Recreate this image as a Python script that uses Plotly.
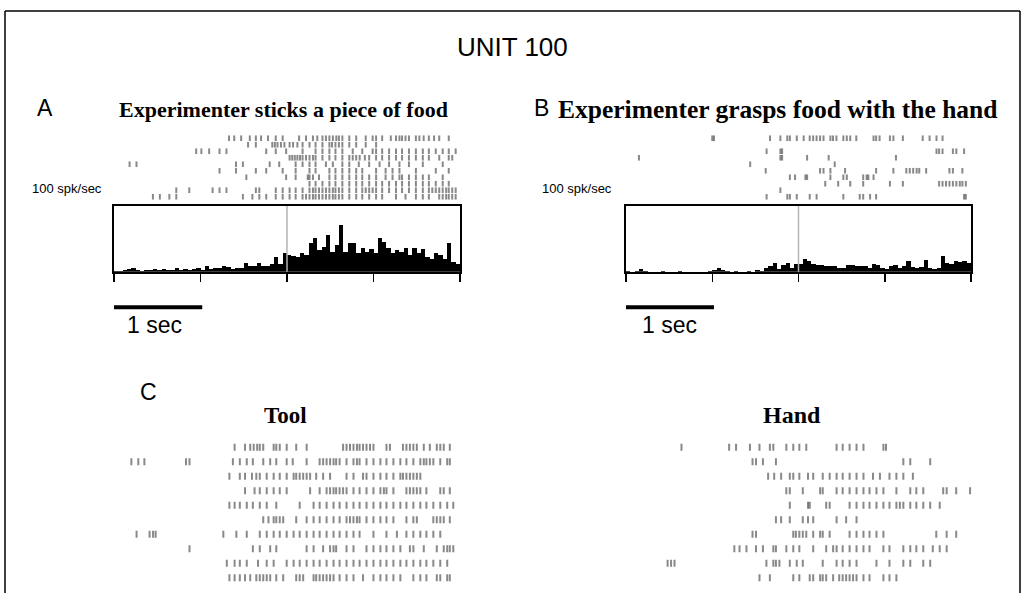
import numpy as np
import plotly.graph_objects as go

W, H = 1025, 593

# ---------------- DATA ----------------
# Histograms (spk/sec), 50 ms bins from -2 s to +2 s (event at 0)
bin_width = 0.05
hist_A = [1, 1, 2, 4, 5, 2, 1, 2, 2, 4, 2, 4, 2, 3, 5, 2, 4, 2, 4, 5,
          3, 9, 4, 5, 6, 9, 7, 4, 5, 6, 13, 9, 8, 13, 8, 9, 11, 23, 12, 28,
          26, 24, 22, 28, 25, 43, 51, 33, 38, 56, 30, 41, 71, 30, 43, 43, 28, 36, 30, 34,
          28, 51, 45, 36, 28, 33, 30, 36, 25, 36, 28, 35, 22, 20, 28, 25, 20, 43, 15, 12]
hist_B = [1, 0, 1, 4, 1, 0, 0, 0, 1, 0, 0, 0, 1, 0, 0, 0, 0, 0, 0, 1,
          2, 5, 3, 1, 0, 1, 0, 0, 1, 0, 3, 1, 6, 8, 13, 4, 10, 14, 5, 11,
          12, 20, 17, 12, 10, 10, 9, 8, 9, 6, 5, 10, 10, 9, 8, 9, 5, 11, 10, 6,
          4, 9, 10, 5, 9, 16, 7, 6, 7, 18, 6, 4, 5, 24, 14, 12, 16, 15, 17, 13]
hist_ticks = [-2, -1, 0, 1, 2]

# Raster spike times (s), one list per trial
raster_A = [
    [-0.67, -0.61, -0.53, -0.43, -0.36, -0.30, -0.22, -0.13, -0.05, 0.14, 0.22, 0.30, 0.35, 0.41, 0.45, 0.49, 0.53,
     0.57, 0.60, 0.64, 0.72, 0.80, 0.91, 0.99, 1.03, 1.10, 1.20, 1.26, 1.30, 1.33, 1.37, 1.41, 1.49, 1.53, 1.58,
     1.64, 1.70, 1.76, 1.87],
    [-0.45, -0.36, -0.17, -0.14, -0.11, -0.07, -0.03, 0.03, 0.07, 0.12, 0.18, 0.26, 0.33, 0.41, 0.49, 0.52, 0.56,
     0.60, 0.64, 0.72, 0.80, 0.91, 1.03],
    [-1.05, -0.99, -0.90, -0.78, -0.70, -0.24, -0.13, -0.01, 0.18, 0.33, 0.41, 0.49, 0.56, 0.64, 0.76, 0.87, 0.99,
     1.03, 1.10, 1.18, 1.26, 1.33, 1.41, 1.49, 1.57, 1.64, 1.72, 1.80, 1.87, 1.95],
    [0.03, 0.06, 0.09, 0.12, 0.15, 0.18, 0.22, 0.26, 0.30, 0.33, 0.41, 0.49, 0.56, 0.64, 0.72, 0.76, 0.80, 0.84,
     0.90, 0.95, 1.03, 1.10, 1.18, 1.26, 1.33, 1.41, 1.49, 1.57, 1.64, 1.76, 1.87, 1.91],
    [-1.82, -1.74, -0.59, -0.51, -0.20, -0.09, 0.10, 0.18, 0.26, 0.33, 0.45, 0.53, 0.64, 0.72, 0.83, 0.95, 1.07,
     1.18, 1.30, 1.41, 1.57, 1.80],
    [-0.78, -0.59, -0.36, -0.24, -0.05, 0.10, 0.26, 0.33, 0.49, 0.56, 0.64, 0.72, 0.80, 0.87, 1.03, 1.14, 1.22,
     1.30, 1.49, 1.72, 1.87],
    [-0.47, -0.01, 0.10, 0.24, 0.26, 0.30, 0.37, 0.49, 0.56, 0.64, 0.72, 0.80, 0.87, 0.95, 1.03, 1.14, 1.22, 1.30,
     1.33, 1.41, 1.49, 1.57, 1.64, 1.80],
    [0.26, 0.33, 0.41, 0.49, 0.56, 0.64, 0.72, 0.80, 0.87, 0.95, 1.03, 1.10, 1.18, 1.26, 1.33, 1.41, 1.49, 1.57,
     1.64, 1.72, 1.80, 1.87],
    [-1.28, -1.13, -0.86, -0.78, -0.70, -0.36, -0.32, -0.13, -0.05, 0.03, 0.10, 0.18, 0.26, 0.30, 0.33, 0.37, 0.41,
     0.45, 0.49, 0.53, 0.56, 0.60, 0.64, 0.72, 0.80, 0.87, 0.91, 0.95, 0.99, 1.03, 1.10, 1.18, 1.26, 1.33, 1.41,
     1.49, 1.57, 1.64, 1.68, 1.72, 1.76, 1.80, 1.84, 1.87, 1.91, 1.95],
    [-1.55, -1.47, -1.36, -1.28, -0.51, -0.40, -0.32, -0.24, -0.13, -0.05, 0.03, 0.10, 0.18, 0.22, 0.26, 0.30, 0.33,
     0.37, 0.41, 0.45, 0.49, 0.53, 0.56, 0.60, 0.64, 0.72, 0.80, 0.87, 0.95, 1.03, 1.10, 1.26, 1.37, 1.49, 1.57,
     1.64, 1.76, 1.80, 1.84, 1.87, 1.91, 1.95],
]
raster_B = [
    [-1.00, -0.98, -0.33, -0.21, -0.13, -0.10, -0.02, 0.06, 0.13, 0.17, 0.21, 0.25, 0.29, 0.37, 0.40, 0.44, 0.52,
     0.56, 0.60, 0.67, 0.87, 0.90, 0.94, 1.06, 1.10, 1.21, 1.44, 1.52, 1.60, 1.67],
    [],
    [-0.37, -0.21, -0.19, 1.60, 1.63, 1.67, 1.79, 1.83, 1.92],
    [-1.85, -0.21, -0.19, 0.10, 0.35, 1.13],
    [-0.56, 0.42],
    [-0.38, 0.25, 0.29, 0.37, 0.54, 0.90, 1.10, 1.25, 1.29, 1.33, 1.37, 1.40, 1.48, 1.75, 1.79, 1.90],
    [-0.10, -0.04, 0.08, 0.10, 0.37, 0.52, 0.56, 0.75, 0.79, 0.81, 0.87],
    [0.31, 0.46, 0.60, 0.75, 1.06, 1.21, 1.63, 1.67, 1.71, 1.75, 1.79, 1.83, 1.87, 1.90, 1.94],
    [-0.21],
    [-0.37, -0.13, -0.10, -0.02, 0.13, 0.21, 0.52, 0.71, 0.75, 0.83, 0.90, 1.92, 1.94],
]
raster_tool = [
    [-0.61, -0.49, -0.43, -0.39, -0.35, -0.32, -0.28, -0.16, -0.13, -0.09, -0.01, 0.10, 0.22, 0.64, 0.68, 0.72,
     0.76, 0.80, 0.83, 0.87, 0.91, 0.95, 0.99, 1.14, 1.18, 1.33, 1.37, 1.41, 1.45, 1.49, 1.57, 1.64, 1.72, 1.76,
     1.80, 1.87],
    [-1.80, -1.72, -1.65, -1.17, -1.13, -0.63, -0.55, -0.47, -0.40, -0.28, -0.20, -0.13, -0.01, 0.06, 0.22, 0.37,
     0.41, 0.45, 0.49, 0.53, 0.56, 0.60, 0.68, 0.76, 0.80, 0.83, 0.91, 0.99, 1.07, 1.14, 1.22, 1.30, 1.37, 1.45,
     1.53, 1.57, 1.60, 1.64, 1.68, 1.76, 1.84, 1.87],
    [-0.67, -0.55, -0.49, -0.41, -0.36, -0.32, -0.24, -0.16, -0.09, -0.01, 0.07, 0.10, 0.14, 0.18, 0.22, 0.26,
     0.33, 0.41, 0.49, 0.68, 0.76, 0.87, 0.91, 0.99, 1.07, 1.14, 1.22, 1.30, 1.33, 1.37, 1.41, 1.45, 1.49, 1.53],
    [-0.49, -0.38, -0.32, -0.24, -0.16, -0.09, -0.01, 0.26, 0.37, 0.45, 0.49, 0.53, 0.56, 0.60, 0.64, 0.68, 0.76,
     0.83, 0.91, 0.99, 1.07, 1.11, 1.14, 1.22, 1.37, 1.41, 1.45, 1.49, 1.53, 1.60, 1.76, 1.80, 1.87],
    [-0.67, -0.61, -0.55, -0.47, -0.40, -0.32, -0.24, -0.13, 0.14, 0.30, 0.37, 0.45, 0.53, 0.60, 0.68, 0.76, 0.83,
     0.91, 0.99, 1.07, 1.14, 1.22, 1.30, 1.37, 1.45, 1.53, 1.60, 1.68, 1.76, 1.84, 1.91],
    [-0.28, -0.22, -0.16, -0.13, -0.09, -0.05, 0.10, 0.22, 0.30, 0.37, 0.45, 0.53, 0.60, 0.68, 0.72, 0.76, 0.80,
     0.83, 0.91, 0.99, 1.07, 1.14, 1.22, 1.37, 1.45, 1.49, 1.68, 1.72, 1.76, 1.80, 1.87],
    [-1.74, -1.59, -1.55, -1.52, -0.74, -0.59, -0.47, -0.32, -0.24, -0.16, -0.09, -0.01, 0.07, 0.14, 0.22, 0.30,
     0.37, 0.45, 0.53, 0.60, 0.68, 0.76, 0.83, 0.99, 1.14, 1.26, 1.37, 1.45, 1.53, 1.60, 1.68, 1.76],
    [-1.13, -0.40, -0.32, -0.20, -0.13, 0.22, 0.30, 0.41, 0.49, 0.53, 0.56, 0.68, 0.76, 0.91, 0.99, 1.07, 1.14,
     1.22, 1.30, 1.41, 1.45, 1.57, 1.72, 1.80, 1.84, 1.87, 1.91],
    [-0.70, -0.61, -0.55, -0.47, -0.34, -0.24, -0.16, -0.01, 0.07, 0.14, 0.22, 0.30, 0.37, 0.45, 0.53, 0.60, 0.68,
     0.76, 0.83, 0.91, 0.99, 1.07, 1.14, 1.22, 1.30, 1.37, 1.45, 1.53, 1.60, 1.68, 1.76, 1.84],
    [-0.67, -0.61, -0.55, -0.49, -0.43, -0.36, -0.32, -0.28, -0.24, -0.20, -0.13, -0.05, 0.10, 0.14, 0.18, 0.30,
     0.33, 0.37, 0.41, 0.45, 0.49, 0.53, 0.60, 0.68, 0.76, 0.87, 0.99, 1.07, 1.14, 1.22, 1.30, 1.45, 1.53, 1.60,
     1.72, 1.76, 1.84, 1.87],
]
raster_hand = [
    [-1.36, -0.81, -0.73, -0.57, -0.46, -0.34, -0.30, -0.15, -0.07, 0.00, 0.08, 0.43, 0.50, 0.58, 0.66, 0.74,
     0.97, 1.00],
    [-0.54, -0.50, -0.42, -0.27, 1.20, 1.28, 1.51],
    [-0.36, -0.29, -0.21, -0.11, -0.07, 0.00, 0.10, 0.16, 0.27, 0.35, 0.43, 0.50, 0.58, 0.66, 0.74, 0.85, 0.93,
     1.04, 1.12, 1.20, 1.31],
    [-0.15, -0.11, 0.04, 0.24, 0.27, 0.43, 0.50, 0.58, 0.66, 0.74, 0.81, 0.89, 0.97, 1.12, 1.28, 1.35, 1.43, 1.66,
     1.70, 1.81, 1.97],
    [-0.11, 0.10, 0.12, 0.31, 0.35, 0.58, 0.66, 0.74, 0.81, 0.89, 0.97, 1.04, 1.12, 1.16, 1.20, 1.28, 1.35, 1.43,
     1.51, 1.62],
    [-0.27, -0.21, -0.11, 0.04, 0.10, 0.16, 0.43, 0.54, 0.66],
    [-0.54, -0.50, -0.07, -0.04, 0.00, 0.04, 0.08, 0.16, 0.24, 0.27, 0.35, 0.58, 0.66, 0.74, 0.81, 0.89, 0.97,
     1.58, 1.70, 1.81],
    [-0.75, -0.69, -0.61, -0.50, -0.42, -0.30, -0.27, -0.15, -0.07, 0.00, 0.16, 0.31, 0.39, 0.43, 0.50, 0.58, 0.66,
     0.74, 0.81, 0.97, 1.04, 1.20, 1.28, 1.35, 1.43, 1.54, 1.62, 1.70],
    [-1.52, -1.48, -1.44, -0.38, -0.30, -0.27, -0.23, -0.11, -0.03, 0.04, 0.27, 0.43, 0.50, 0.58, 0.66, 0.89, 1.04,
     1.20, 1.28, 1.43, 1.51],
    [-0.46, -0.34, -0.07, 0.00, 0.12, 0.16, 0.24, 0.27, 0.31, 0.39, 0.46, 0.50, 0.54, 0.58, 0.62, 0.66, 0.74, 0.81,
     0.97, 1.04, 1.12],
]

# ---------------- LAYOUT HELPERS ----------------
def px_x(x):
    return x / W

def px_y(y):
    return 1 - y / H

def dom_x(x0, x1):
    return [px_x(x0), px_x(x1)]

def dom_y(ytop, ybot):
    return [px_y(ybot), px_y(ytop)]

fig = go.Figure()

SANS = "Liberation Sans, Arial, sans-serif"
SERIF = "Liberation Serif, Times New Roman, serif"
spike_color = "rgba(20,20,20,0.5)"


def add_raster(data, xa, ya, size, width):
    xs, ys = [], []
    for i, trial in enumerate(data):
        xs.extend(trial)
        ys.extend([i + 1] * len(trial))
    fig.add_trace(go.Scatter(
        x=xs, y=ys, mode="markers", xaxis=xa, yaxis=ya, showlegend=False, hoverinfo="skip",
        marker=dict(symbol="line-ns", size=size, line=dict(width=width, color=spike_color), color=spike_color),
    ))


def add_hist(vals, xa, ya):
    centers = -2 + bin_width * (np.arange(len(vals)) + 0.5)
    fig.add_trace(go.Bar(x=centers, y=vals, width=bin_width, xaxis=xa, yaxis=ya,
                         marker=dict(color="black", line=dict(width=0)), showlegend=False, hoverinfo="skip"))


# Panel A
add_hist(hist_A, "x", "y")
add_raster(raster_A, "x2", "y2", 4, 2)
# Panel B
add_hist(hist_B, "x3", "y3")
add_raster(raster_B, "x4", "y4", 4, 2)
# Panel C
add_raster(raster_tool, "x5", "y5", 5, 2)
add_raster(raster_hand, "x6", "y6", 5, 2)

hidden = dict(visible=False, showgrid=False, zeroline=False)
hist_x = dict(showline=True, mirror=True, linewidth=2, linecolor="black", ticks="outside", ticklen=8,
              tickwidth=1.5, tickcolor="black", tickvals=hist_ticks, showticklabels=False,
              showgrid=False, zeroline=False, range=[-2, 2])
hist_y = dict(showline=True, mirror=True, linewidth=2, linecolor="black", ticks="", showticklabels=False,
              showgrid=False, zeroline=False, range=[0, 100])

fig.update_layout(
    xaxis=dict(**hist_x, domain=dom_x(114, 460), anchor="y"),
    yaxis=dict(**hist_y, domain=dom_y(206, 271.7), anchor="x"),
    xaxis2=dict(**hidden, domain=dom_x(114, 460), range=[-2, 2], anchor="y2"),
    yaxis2=dict(**hidden, domain=dom_y(135, 200), range=[10.5, 0.5], anchor="x2"),
    xaxis3=dict(**hist_x, domain=dom_x(626, 971), anchor="y3"),
    yaxis3=dict(**hist_y, domain=dom_y(206, 271.7), anchor="x3"),
    xaxis4=dict(**hidden, domain=dom_x(626, 971), range=[-2, 2], anchor="y4"),
    yaxis4=dict(**hidden, domain=dom_y(135, 200), range=[10.5, 0.5], anchor="x4"),
    xaxis5=dict(**hidden, domain=dom_x(114, 470), range=[-2, (470 - 287.7) / 86.7], anchor="y5"),
    yaxis5=dict(**hidden, domain=dom_y(440, 585), range=[10.5, 0.5], anchor="x5"),
    xaxis6=dict(**hidden, domain=dom_x(626, 990), range=[-2, (990 - 799.7) / 86.5], anchor="y6"),
    yaxis6=dict(**hidden, domain=dom_y(440, 585), range=[10.5, 0.5], anchor="x6"),
)

shapes = []
# event lines (gray) at t = 0
for xa, ya in (("x", "y"), ("x3", "y3")):
    shapes.append(dict(type="line", xref=xa, yref=ya + " domain", x0=0, x1=0, y0=0, y1=1,
                       line=dict(color="#b5b5b5", width=1.5), layer="above"))
# 1 sec scale bars
for xa in ("x", "x3"):
    shapes.append(dict(type="line", xref=xa, yref="paper", x0=-2.03, x1=-0.98, y0=px_y(307.3), y1=px_y(307.3),
                       line=dict(color="black", width=4)))
# outer frame (open at bottom)
frame = dict(color="black", width=1.5)
shapes.append(dict(type="line", xref="paper", yref="paper", x0=px_x(5), x1=px_x(5), y0=px_y(11), y1=-0.05, line=frame))
shapes.append(dict(type="line", xref="paper", yref="paper", x0=px_x(1020), x1=px_x(1020), y0=px_y(11), y1=-0.05, line=frame))
shapes.append(dict(type="line", xref="paper", yref="paper", x0=px_x(5), x1=px_x(1020), y0=px_y(11), y1=px_y(11), line=frame))

annotations = []


def text(s, x, y, size, family=SANS, bold=False, xanchor="center"):
    annotations.append(dict(text=("<b>%s</b>" % s) if bold else s, x=px_x(x), y=px_y(y), xref="paper",
                            yref="paper", xanchor=xanchor, yanchor="middle", showarrow=False,
                            font=dict(family=family, size=size, color="black")))


text("UNIT 100", 512, 47, 26)
text("A", 45, 108, 23)
text("B", 541, 108, 23)
text("C", 148, 392, 23)
text("Experimenter sticks a piece of food", 283, 110, 22, SERIF, True)
text("Experimenter grasps food with the hand", 777, 110, 25.5, SERIF, True)
text("100 spk/sec", 104, 188, 13, xanchor="right")
text("100 spk/sec", 614, 188, 13, xanchor="right")
text("1 sec", 154, 325, 23)
text("1 sec", 669, 325, 23)
text("Tool", 285, 415, 23, SERIF, True)
text("Hand", 792, 415, 24, SERIF, True)

fig.update_layout(width=W, height=H, margin=dict(l=0, r=0, t=0, b=0), paper_bgcolor="white",
                  plot_bgcolor="rgba(0,0,0,0)", shapes=shapes, annotations=annotations, bargap=0)

fig.write_html("out.html", config={"displayModeBar": False, "staticPlot": True},
               post_script="document.body.style.margin='0';document.body.style.overflow='hidden';")
